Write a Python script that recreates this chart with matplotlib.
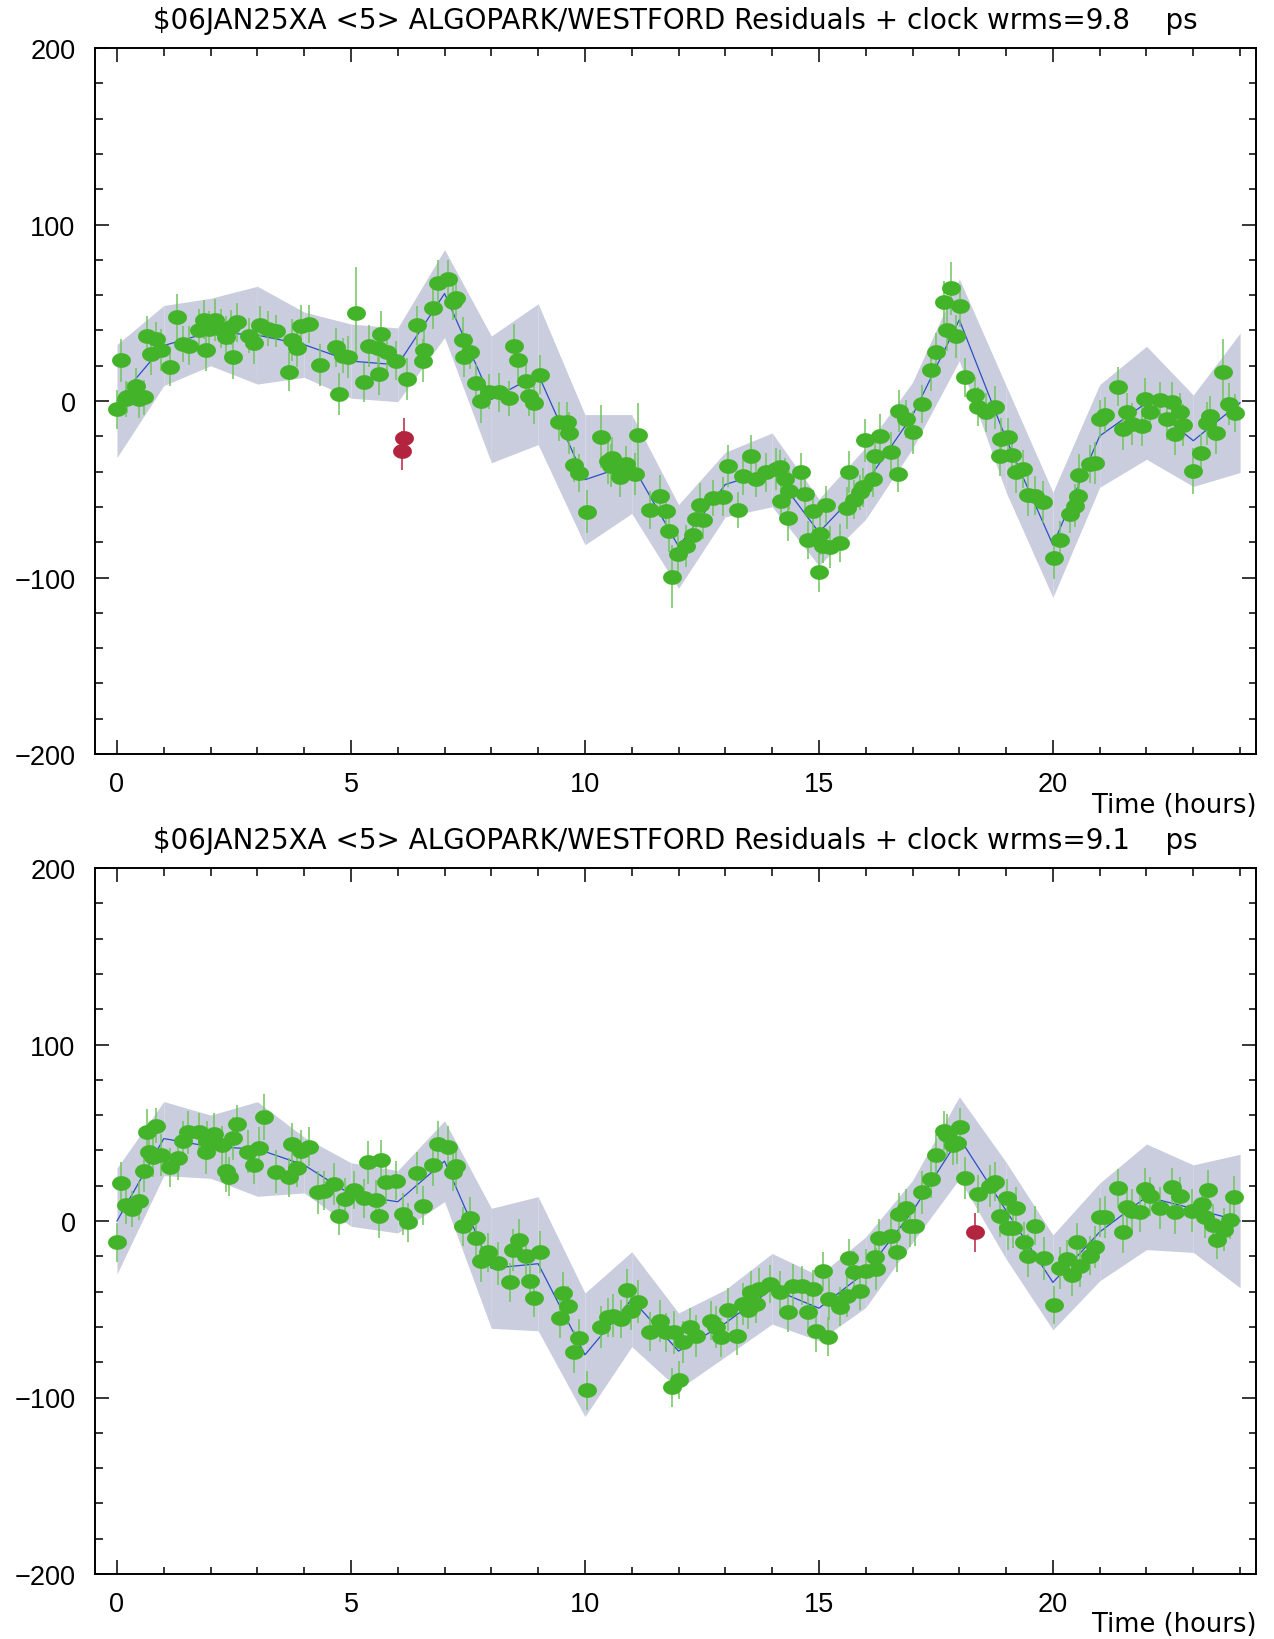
import numpy as np
import matplotlib
matplotlib.use("Agg")
import matplotlib.pyplot as plt
from matplotlib.path import Path
from matplotlib.ticker import MultipleLocator

plt.rcParams['font.family'] = ['Liberation Sans', 'DejaVu Sans']

# clock model nodes (hourly) and band half-widths
node_t = list(range(25))
top_model = [0, 31.4, 39.1, 37.3, 31.9, 22.6, 20.5, 60.9, 0.9, 15.2, -44.6, -35.7, -82.4,
             -47.3, -39.0, -74.4, -46.6, -8.2, 46.0, -21.5, -81.5, -19.8, -1.0, -22.5, -1.0]
top_band = [32, 22.7, 19.1, 27.7, 18.5, 21, 20.9, 24.9, 35.9, 39.9, 36.9, 28, 23.7,
            18.3, 20.9, 18.9, 20.4, 18.8, 23.2, 30.2, 29.8, 29.1, 32, 25.9, 39.5]
bot_model = [0, 46.7, 42.1, 40.8, 31.7, 15.0, 10.9, 33.9, -26.8, -24.2, -75.8, -44.3, -73.7,
             -57.9, -38.4, -49.4, -29.0, 5.5, 47.1, 5.9, -34.8, -6.2, 13.7, 7.0, 0]
bot_band = [30, 21, 17.9, 26.8, 15.8, 18, 17.7, 22.9, 34, 38, 35, 26.9, 21.6,
            19, 20, 18.4, 20, 17.5, 23.3, 27.4, 26.9, 27.7, 29.9, 24.8, 37.8]

# top panel: used observations
top_t = [0.00, 0.08, 0.19, 0.22, 0.40, 0.47, 0.58, 0.65, 0.72, 0.83,
         0.93, 1.13, 1.29, 1.40, 1.54, 1.75, 1.86, 1.91, 1.97, 2.10,
         2.22, 2.32, 2.43, 2.47, 2.57, 2.82, 2.93, 3.05, 3.22, 3.39,
         3.68, 3.75, 3.84, 3.93, 4.11, 4.34, 4.68, 4.75, 4.82, 4.93,
         5.11, 5.28, 5.39, 5.57, 5.60, 5.65, 5.77, 5.96, 6.20, 6.42,
         6.53, 6.57, 6.75, 6.85, 7.07, 7.17, 7.24, 7.39, 7.42, 7.55,
         7.67, 7.78, 7.96, 8.17, 8.38, 8.48, 8.56, 8.74, 8.81, 8.92,
         9.04, 9.45, 9.61, 9.65, 9.77, 9.88, 10.04, 10.35, 10.50, 10.56,
         10.57, 10.74, 10.88, 11.06, 11.13, 11.38, 11.60, 11.74, 11.80, 11.87,
         11.99, 12.15, 12.30, 12.38, 12.45, 12.52, 12.73, 12.95, 13.06, 13.27,
         13.38, 13.55, 13.66, 13.87, 14.09, 14.16, 14.20, 14.27, 14.34, 14.37,
         14.62, 14.70, 14.77, 14.87, 15.00, 15.02, 15.09, 15.16, 15.23, 15.44,
         15.59, 15.64, 15.76, 15.87, 15.94, 15.98, 16.16, 16.20, 16.30, 16.53,
         16.68, 16.71, 16.87, 17.01, 17.21, 17.40, 17.51, 17.67, 17.73, 17.83,
         17.93, 18.01, 18.12, 18.33, 18.40, 18.58, 18.76, 18.87, 18.90, 19.05,
         19.12, 19.22, 19.36, 19.47, 19.62, 19.79, 20.02, 20.15, 20.36, 20.47,
         20.54, 20.56, 20.79, 20.90, 21.00, 21.11, 21.40, 21.50, 21.58, 21.68,
         21.90, 21.97, 22.08, 22.29, 22.43, 22.54, 22.61, 22.72, 22.79, 22.99,
         23.16, 23.29, 23.36, 23.49, 23.63, 23.77, 23.89]
top_v = [-4.7, 23, 1.1, 2, 8.7, 1.1, 2, 37, 26.6, 35,
         29, 19.5, 47.4, 32.3, 31.4, 40, 46, 29, 41, 46,
         41, 36, 41.7, 24.7, 44.6, 37, 33, 43, 41, 39.5,
         16.6, 34.6, 30, 42.3, 43.6, 20.4, 30.4, 4, 25.7, 25,
         49.7, 10.6, 31, 30, 15.3, 38, 28, 22.8, 12.5, 43,
         22.9, 29, 52.7, 66.9, 69, 56, 58.4, 34.8, 24.7, 28,
         10, -0.2, 5.3, 4.9, 1.5, 31.4, 23.4, 11.1, 2.6, -1.1,
         14.9, -11.7, -11.7, -18.1, -36, -40.8, -62.7, -20.2, -33.8, -36.6,
         -32.3, -43.2, -35.7, -41.4, -19.3, -61.8, -54, -62.5, -73.5, -99.5,
         -86.7, -82, -75.7, -66.9, -58.7, -67.4, -55, -54.2, -37, -61.8,
         -42.3, -31, -44.2, -40.4, -38.5, -37.6, -56.5, -44.2, -66.3, -50.8,
         -40.4, -52.7, -78.8, -62.5, -97, -75.4, -82, -58.9, -82.9, -80.5,
         -60.8, -40.4, -55.9, -51.7, -48.9, -22.3, -44.2, -31, -19.6, -28.7,
         -41.4, -5.5, -10.2, -17.8, -1.7, 17.6, 27.6, 55.9, 40.4, 64,
         36.6, 54, 13.4, 3.6, -3.2, -6.4, -3.6, -31.3, -21.5, -20.6,
         -30.6, -40.4, -38.5, -53, -53.6, -57.4, -89, -78.8, -64, -59.3,
         -54, -42, -35.7, -35.1, -10.2, -7.7, 8.1, -15.9, -6.4, -13.2,
         -14.4, 1.1, -6.4, 0.6, -10.2, -0.4, -18.7, -6.4, -13.6, -39.8,
         -29.7, -12.7, -8.3, -18.1, 16.2, -1.7, -6.8]
top_err = [11, 12, 10, 9, 10, 11, 10, 11, 12, 10,
           12, 11, 13, 10, 11, 12, 11, 12, 10, 12,
           11, 12, 10, 12, 11, 10, 12, 11, 10, 9,
           11, 12, 11, 12, 11, 12, 11, 12, 10, 12,
           26, 11, 12, 11, 12, 13, 12, 11, 12, 11,
           12, 11, 12, 13, 11, 10, 12, 13, 11, 10,
           11, 12, 10, 11, 10, 12, 11, 10, 11, 12,
           11, 11, 11, 12, 10, 11, 12, 18, 13, 12,
           12, 11, 10, 12, 18, 11, 12, 11, 12, 18,
           11, 12, 10, 11, 12, 11, 10, 11, 12, 10,
           11, 12, 10, 11, 12, 10, 11, 12, 13, 11,
           11, 10, 11, 12, 11, 12, 10, 11, 12, 11,
           12, 12, 11, 10, 11, 12, 10, 11, 12, 11,
           10, 12, 11, 12, 11, 12, 11, 12, 12, 15,
           12, 12, 11, 10, 11, 11, 12, 11, 12, 11,
           10, 12, 11, 12, 11, 12, 12, 11, 11, 12,
           10, 12, 11, 12, 11, 10, 11, 12, 11, 12,
           11, 12, 11, 10, 12, 11, 12, 11, 12, 13,
           11, 12, 11, 12, 19, 12, 11]
# top panel: suppressed observations
top_out_t = [6.14, 6.10]
top_out_v = [-20.8, -28.1]
top_out_err = [11, 11]

# bottom panel
bot_t = [0.00, 0.08, 0.19, 0.33, 0.47, 0.58, 0.65, 0.68, 0.76, 0.83,
         0.93, 1.13, 1.30, 1.40, 1.51, 1.75, 1.90, 1.93, 2.07, 2.25,
         2.32, 2.40, 2.47, 2.57, 2.80, 2.93, 3.04, 3.14, 3.39, 3.68,
         3.75, 3.84, 3.93, 4.11, 4.30, 4.43, 4.64, 4.75, 4.87, 5.07,
         5.28, 5.37, 5.53, 5.60, 5.65, 5.75, 5.96, 6.12, 6.21, 6.42,
         6.53, 6.75, 6.85, 7.08, 7.17, 7.24, 7.39, 7.55, 7.67, 7.78,
         7.92, 8.14, 8.39, 8.46, 8.58, 8.74, 8.83, 8.92, 9.04, 9.46,
         9.53, 9.63, 9.77, 9.88, 10.04, 10.35, 10.49, 10.60, 10.77, 10.90,
         10.98, 11.13, 11.38, 11.60, 11.74, 11.87, 11.90, 12.00, 12.09, 12.24,
         12.38, 12.70, 12.81, 12.91, 13.06, 13.25, 13.37, 13.48, 13.55, 13.66,
         13.73, 13.95, 14.16, 14.34, 14.45, 14.63, 14.77, 14.88, 14.94, 15.08,
         15.19, 15.21, 15.44, 15.59, 15.64, 15.76, 15.87, 16.00, 16.19, 16.23,
         16.28, 16.53, 16.67, 16.71, 16.87, 16.94, 17.05, 17.21, 17.40, 17.51,
         17.67, 17.73, 17.87, 17.94, 18.02, 18.12, 18.40, 18.65, 18.76, 18.87,
         19.01, 19.03, 19.15, 19.22, 19.38, 19.47, 19.62, 19.80, 20.02, 20.15,
         20.30, 20.40, 20.52, 20.58, 20.79, 20.90, 21.00, 21.11, 21.40, 21.50,
         21.58, 21.69, 21.86, 21.97, 22.08, 22.29, 22.54, 22.61, 22.72, 22.97,
         23.18, 23.25, 23.32, 23.43, 23.51, 23.65, 23.79, 23.87]
bot_v = [-12.1, 21.3, 9.1, 6.8, 11.5, 28.5, 50.2, 39.3, 36, 54,
         37.4, 30.4, 35.5, 45.5, 50.2, 50.2, 38.9, 45.5, 49.3, 43,
         28.5, 25.1, 46.8, 55, 39.3, 31.7, 41.2, 58.7, 28, 24.7,
         43.6, 30, 39.8, 42.1, 16.2, 17.2, 21, 3, 12.5, 17.6,
         12.8, 33.2, 12.1, 2.6, 34.7, 21.9, 22.9, 4, -0.8, 27.2,
         8.7, 31.7, 43.6, 41.7, 28, 31, -3, 1.5, -9.6, -22.5,
         -17.8, -24, -34.7, -16.4, -10.6, -20, -34.2, -43.6, -17.4, -55.1,
         -40.8, -48, -74, -66.5, -95.8, -60.2, -54.6, -53.6, -55.5, -39.1,
         -50.8, -45.7, -62.7, -56.5, -63.1, -94.2, -63.1, -90.1, -68.4, -60.2,
         -65, -56.5, -60.2, -65.9, -50.2, -65, -47, -50.2, -40.4, -47,
         -38.5, -35.7, -40.4, -51.7, -36.6, -36.6, -51.7, -38.5, -62.5, -28.5,
         -65.5, -44.2, -48.5, -42.3, -21.2, -29.1, -39.5, -28.1, -20.2, -27.2,
         -9.6, -8.3, -17.8, 4, 7.4, -3, -3, 16.2, 23.8, 37.4,
         51.2, 48.7, 43, 44.2, 53, 24.4, 15.3, 20, 22.3, 3,
         12.8, -4.2, -4.2, 7.2, -11.7, -19.6, -2.6, -21.2, -47.6, -26.8,
         -21.5, -30.6, -12.1, -25.3, -19.6, -14.9, 2.1, 2.1, 18.5, -6,
         7.7, 5.9, 4.9, 18.1, 14, 7.2, 19.1, 4.9, 14, 5.9,
         9.6, 2.1, 17.8, -2.3, -10.6, -4.9, 0.6, 13.4]
bot_err = [11, 12, 11, 10, 11, 12, 13, 12, 11, 10,
           12, 11, 12, 11, 12, 11, 12, 11, 12, 11,
           12, 11, 12, 11, 12, 11, 12, 13, 12, 11,
           12, 11, 12, 11, 12, 11, 12, 11, 12, 11,
           11, 12, 11, 12, 11, 12, 11, 12, 11, 12,
           11, 12, 13, 12, 11, 12, 11, 12, 11, 12,
           11, 12, 11, 12, 12, 11, 12, 11, 12, 11,
           12, 11, 12, 11, 11, 12, 11, 12, 11, 12,
           11, 12, 11, 12, 11, 11, 12, 11, 12, 11,
           12, 11, 12, 11, 12, 11, 12, 11, 12, 11,
           12, 11, 12, 11, 12, 11, 12, 11, 12, 11,
           11, 12, 11, 12, 11, 12, 11, 12, 11, 12,
           11, 12, 11, 12, 11, 12, 11, 12, 11, 12,
           11, 12, 11, 12, 11, 12, 11, 12, 11, 12,
           11, 12, 11, 12, 11, 12, 11, 12, 11, 12,
           11, 12, 11, 12, 11, 12, 11, 12, 11, 12,
           11, 12, 11, 12, 11, 12, 11, 12, 11, 12,
           11, 12, 11, 12, 11, 12, 11, 12]
bot_out_t = [18.33]
bot_out_v = [-6.4]
bot_out_err = [11]

titles = ["$06JAN25XA <5> ALGOPARK/WESTFORD Residuals + clock wrms=9.8    ps",
          "$06JAN25XA <5> ALGOPARK/WESTFORD Residuals + clock wrms=9.1    ps"]

GREEN = "#43b32a"
GREEN_BAR = "#6fc45c"
RED = "#b3243f"
BAND = "#c9cddd"
LINE = "#2d4fc4"

# wide ellipse marker
theta = np.linspace(0, 2 * np.pi, 64)
ell = Path(np.column_stack([np.cos(theta), 0.78 * np.sin(theta)]), closed=True)

W, H = 1274, 1640
fig = plt.figure(figsize=(W / 100, H / 100), dpi=100)

left = 95 / W
width = (1256 - 95) / W
height = (755 - 49) / H
axes_top = [1 - 49 / H, 1 - 869 / H]
title_y = [1 - 21 / H, 1 - 841 / H]
xlabel_y = [1 - 806 / H, 1 - 1625 / H]

panels = [
    (top_model, top_band, top_t, top_v, top_err, top_out_t, top_out_v, top_out_err),
    (bot_model, bot_band, bot_t, bot_v, bot_err, bot_out_t, bot_out_v, bot_out_err),
]

for i, (model, band, t, v, err, ot, ov, oe) in enumerate(panels):
    ax = fig.add_axes([left, axes_top[i] - height, width, height])
    model = np.array(model)
    band = np.array(band)

    # band drawn segment by segment
    for k in range(len(node_t) - 1):
        seg = slice(k, k + 2)
        ax.fill_between(node_t[seg], (model - band)[seg], (model + band)[seg],
                        color=BAND, linewidth=0, zorder=1)
    ax.plot(node_t, model, color=LINE, linewidth=0.9, zorder=2)

    ax.errorbar(t, v, yerr=err, fmt='none', ecolor=GREEN_BAR, elinewidth=1.1,
                capsize=0, zorder=3)
    ax.plot(t, v, linestyle='none', marker=ell, markersize=13.6,
            markerfacecolor=GREEN, markeredgewidth=0, zorder=4)
    ax.errorbar(ot, ov, yerr=oe, fmt='none', ecolor=RED, elinewidth=1.1,
                capsize=0, zorder=3)
    ax.plot(ot, ov, linestyle='none', marker=ell, markersize=13.6,
            markerfacecolor=RED, markeredgewidth=0, zorder=4)

    ax.set_xlim(-0.47, 24.34)
    ax.set_ylim(-200, 200)
    ax.xaxis.set_major_locator(MultipleLocator(5))
    ax.xaxis.set_minor_locator(MultipleLocator(1))
    ax.yaxis.set_major_locator(MultipleLocator(100))
    ax.yaxis.set_minor_locator(MultipleLocator(20))
    ax.tick_params(which='both', direction='in', top=True, right=True,
                   width=1.1, color='black', labelsize=19.5)
    ax.tick_params(which='major', length=10)
    ax.tick_params(which='minor', length=5.4)
    ax.tick_params(axis='y', pad=14)
    ax.tick_params(axis='x', pad=12)
    for s in ax.spines.values():
        s.set_linewidth(1.4)

    fig.text(left + width / 2, title_y[i], titles[i], ha='center', va='center',
             fontsize=20, family=['DejaVu Sans'])
    fig.text(left + width, xlabel_y[i], "Time (hours)", ha='right', va='center',
             fontsize=18.5, family=['DejaVu Sans'])

fig.savefig("out.png", dpi=100)
